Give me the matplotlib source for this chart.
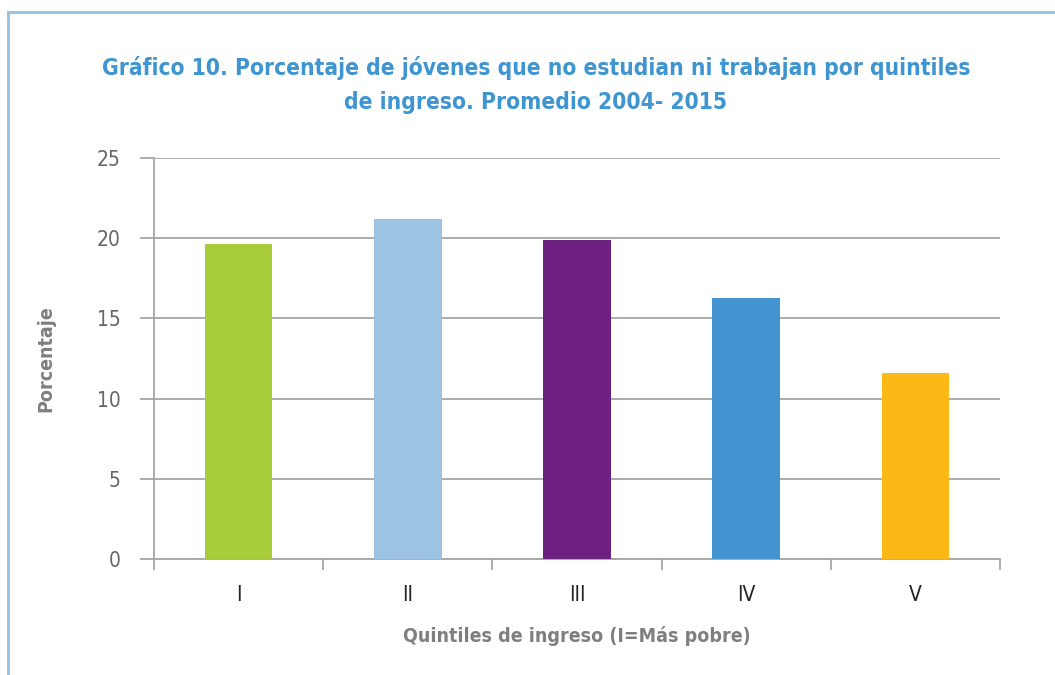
import matplotlib
matplotlib.use("Agg")
import matplotlib.pyplot as plt
from matplotlib.patches import Rectangle

quintiles = ["I", "II", "III", "IV", "V"]
porcentaje = [19.65, 21.2, 19.9, 16.3, 11.6]
colores = ["#a8cd38", "#9dc3e3", "#6e2181", "#4394d0", "#fbb817"]

gris = "#a6a6a6"
cond = dict(family="DejaVu Sans", fontstretch="condensed")

fig = plt.figure(figsize=(10.55, 6.75), dpi=100)
ax = fig.add_axes([154/1055, 1-559/675, 846/1055, 401/675])

# borde azul claro del recuadro
fig.patches.append(Rectangle((8/1055, -0.1), 1.2, 1-12/675+0.1, transform=fig.transFigure,
                             fill=False, edgecolor="#9dc3e3", linewidth=2.2))

x = range(len(quintiles))
ax.bar(x, porcentaje, width=0.4, color=colores, zorder=3)

ax.set_xlim(-0.5, 4.5)
ax.set_ylim(0, 25)
ax.set_yticks([0, 5, 10, 15, 20, 25])
ax.yaxis.grid(True, color=gris, linewidth=1.3, zorder=0)
ax.set_xticks([-0.5, 0.5, 1.5, 2.5, 3.5, 4.5])
ax.set_xticklabels([])
ax.set_xticks(list(x), minor=True)
ax.set_xticklabels(quintiles, minor=True, fontsize=15, color="#222222", **cond)
ax.tick_params(axis="x", which="major", length=8, color=gris, width=1.3, direction="out")
ax.tick_params(axis="x", which="minor", length=0, pad=19)
ax.tick_params(axis="y", length=10, color=gris, width=1.3, pad=14,
               labelsize=15, labelcolor="#666666")
for lab in ax.get_yticklabels():
    lab.set_fontstretch("condensed")

for s in ["top", "right"]:
    ax.spines[s].set_visible(False)
for s in ["left", "bottom"]:
    ax.spines[s].set_color(gris)
    ax.spines[s].set_linewidth(1.3)

ax.set_ylabel("Porcentaje", fontsize=14, fontweight="bold", color="#7f7f7f",
              labelpad=30, **cond)
ax.set_xlabel("Quintiles de ingreso (I=Más pobre)", fontsize=14, fontweight="bold",
              color="#7f7f7f", labelpad=15, **cond)

fig.text(536/1055, 1-85/675,
         "Gráfico 10. Porcentaje de jóvenes que no estudian ni trabajan por quintiles\nde ingreso. Promedio 2004- 2015",
         ha="center", va="center", fontsize=16.3, fontweight="bold", color="#3e95d1",
         linespacing=1.6, **cond)

fig.savefig("out.png", dpi=100)
